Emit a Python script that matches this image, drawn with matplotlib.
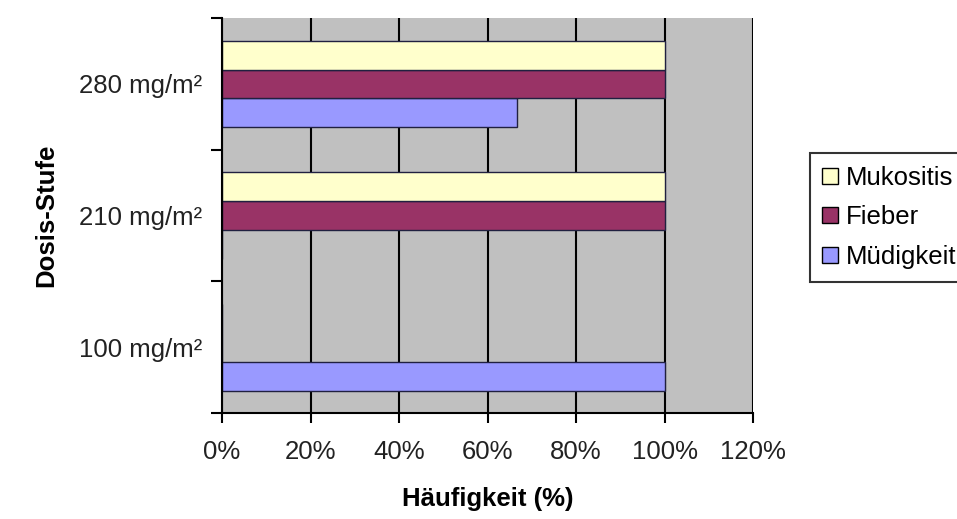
import numpy as np
import matplotlib.pyplot as plt
from matplotlib.patches import Patch

plt.rcParams['font.family'] = ['Liberation Sans', 'DejaVu Sans']

doses = ['100 mg/m²', '210 mg/m²', '280 mg/m²']
muedigkeit = [100, 0, 66.7]
fieber = [0, 100, 100]
mukositis = [0, 100, 100]

c_mued = '#9999FF'
c_fieb = '#993366'
c_muko = '#FFFFCC'

fig = plt.figure(figsize=(9.57, 5.19), dpi=100)
ax = fig.add_axes([0.232, 0.204, 0.555, 0.761])
ax.set_facecolor('#C0C0C0')

y = np.arange(len(doses))
h = 0.22
ax.barh(y - h, muedigkeit, height=h, color=c_mued, edgecolor='#202040', linewidth=1, zorder=3)
ax.barh(y, fieber, height=h, color=c_fieb, edgecolor='#202040', linewidth=1, zorder=3)
ax.barh(y + h, mukositis, height=h, color=c_muko, edgecolor='#202040', linewidth=1, zorder=3)

ax.set_xlim(0, 120)
ax.set_ylim(-0.5, 2.5)
ax.set_xticks(np.arange(0, 121, 20))
ax.set_xticklabels([f'{v}%' for v in range(0, 121, 20)])
ax.set_yticks([-0.5, 0.5, 1.5, 2.5])
ax.set_yticklabels([])
ax.set_yticks(y, minor=True)
ax.set_yticklabels(doses, minor=True)
ax.tick_params(axis='y', which='minor', length=0, pad=14, labelsize=18.5, labelcolor='#222222')
ax.tick_params(axis='y', which='major', length=8, width=1.5, direction='out')
ax.tick_params(axis='x', length=7, width=1.5, direction='out', labelsize=18.5, pad=12,
               labelcolor='#222222')

ax.grid(axis='x', color='black', linewidth=1.5)
ax.set_axisbelow(True)

for s in ['top', 'right']:
    ax.spines[s].set_visible(False)
for s in ['left', 'bottom']:
    ax.spines[s].set_linewidth(1.5)
    ax.spines[s].set_zorder(4)

ax.set_xlabel('Häufigkeit (%)', fontsize=18.5, fontweight='bold', labelpad=17)
ax.set_ylabel('Dosis-Stufe', fontsize=18.5, fontweight='bold')
ax.yaxis.set_label_coords(-0.309, 0.5)

handles = [Patch(facecolor=c_muko, edgecolor='black'),
           Patch(facecolor=c_fieb, edgecolor='black'),
           Patch(facecolor=c_mued, edgecolor='black')]
leg = fig.legend(handles, ['Mukositis', 'Fieber', 'Müdigkeit'],
                 loc='upper left', bbox_to_anchor=(0.846, 0.705),
                 fontsize=18.5, frameon=True, fancybox=False,
                 handlelength=0.6, handleheight=0.6, handletextpad=0.3,
                 borderpad=0.5, labelspacing=0.6, borderaxespad=0)
leg.get_frame().set_edgecolor('black')
leg.get_frame().set_linewidth(1.5)

fig.savefig('out.png', dpi=100)
